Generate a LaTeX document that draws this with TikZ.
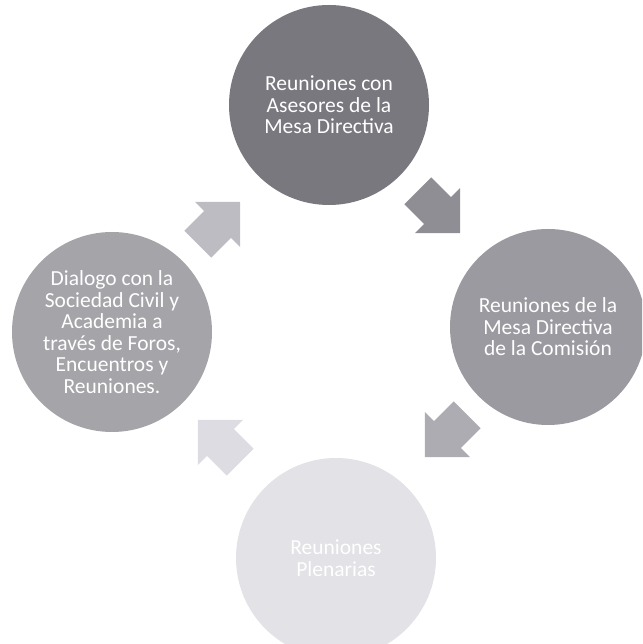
\documentclass[tikz,border=0pt]{standalone}
\usepackage{fontspec}
\setmainfont{Carlito}
\definecolor{asesores}{RGB}{120,120,126}
\definecolor{mesa}{RGB}{154,154,160}
\definecolor{plenaria}{RGB}{226,226,231}
\definecolor{dialogo}{RGB}{164,164,169}
\definecolor{arrowA}{RGB}{188,188,194}
\definecolor{arrowB}{RGB}{142,142,148}
\definecolor{arrowC}{RGB}{172,172,178}
\definecolor{arrowD}{RGB}{220,220,226}
\tikzset{
  stage/.style={circle, minimum size=200pt, inner sep=0pt, align=center,
    text=white, font=\fontsize{21.5}{21.5}\selectfont},
  pics/cyclearrow/.style={code={
    \fill[#1] (-30,-19) -- (-2,-19) -- (-2,-32) -- (30,0) -- (-2,32) -- (-2,19) -- (-30,19) -- cycle;
  }}
}
\begin{document}
\begin{tikzpicture}[x=1pt,y=1pt]
\useasboundingbox (0,0) rectangle (642,644);
\clip (0,0) rectangle (642,644);
\node[stage, fill=asesores] (asesores) at (329,539) {Reuniones con\\Asesores de la\\Mesa Directiva};
\node[stage, fill=mesa, minimum size=196pt] (mesa) at (548,317) {Reuniones de la\\Mesa Directiva\\de la Comisión};
\node[stage, fill=plenaria] (plenaria) at (336,86) {Reuniones\\Plenarias};
\node[stage, fill=dialogo] (dialogo) at (112,312) {Dialogo con la\\Sociedad Civil y\\Academia a\\través de Foros,\\Encuentros y\\Reuniones.};
\foreach \name/\pos/\ang/\col in {ad/{(219,421)}/45/arrowA, am/{(439,432)}/-45/arrowB,
    mp/{(446,208)}/-135/arrowC, pd/{(219,203)}/135/arrowD} {
  \pic[rotate=\ang] (\name) at \pos {cyclearrow=\col};
}
\end{tikzpicture}
\end{document}
